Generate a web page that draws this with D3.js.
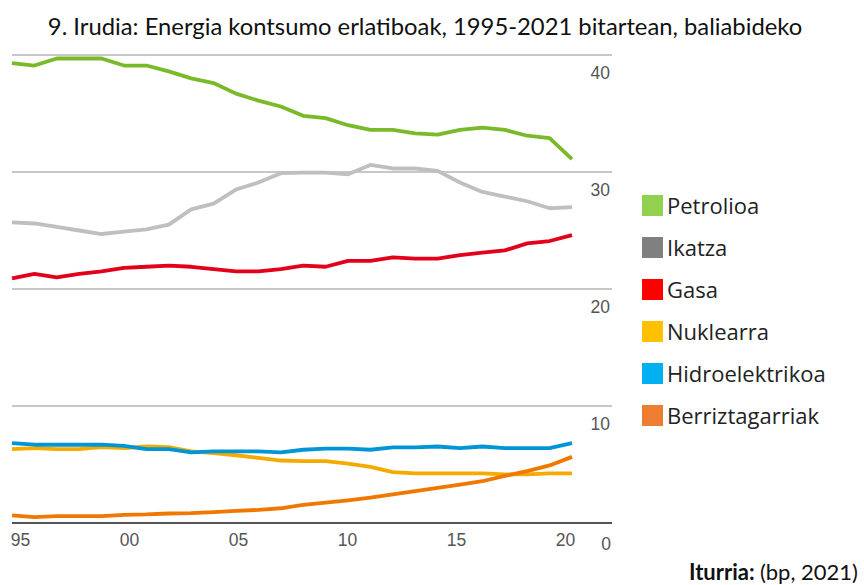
<!DOCTYPE html>
<html>
<head>
<meta charset="utf-8">
<script src="https://cdn.jsdelivr.net/npm/d3@7"></script>
<style>
  body { margin: 0; background: #fff; }
  svg { display: block; }
</style>
</head>
<body>
<script>
// urteak eta seriak (%), BP datuak, grafikotik irakurrita
let years = d3.range(1995, 2021);
let petrolioa = [39.3, 39.1, 39.7, 39.7, 39.7, 39.1, 39.1, 38.6, 38.0, 37.6, 36.7, 36.1, 35.6, 34.8, 34.6, 34.0, 33.6, 33.6, 33.3, 33.2, 33.6, 33.8, 33.6, 33.1, 32.9, 31.1];
let ikatza = [25.7, 25.6, 25.3, 25.0, 24.7, 24.9, 25.1, 25.5, 26.8, 27.3, 28.5, 29.1, 29.9, 29.95, 29.95, 29.8, 30.6, 30.3, 30.3, 30.1, 29.1, 28.3, 27.9, 27.5, 26.9, 27.0];
let gasa = [20.9, 21.3, 21.0, 21.3, 21.5, 21.8, 21.9, 22.0, 21.9, 21.7, 21.5, 21.5, 21.7, 22.0, 21.9, 22.4, 22.4, 22.7, 22.6, 22.6, 22.9, 23.1, 23.3, 23.9, 24.1, 24.6];
let nuklearra = [6.32, 6.4, 6.32, 6.32, 6.49, 6.4, 6.54, 6.49, 6.12, 5.98, 5.79, 5.56, 5.34, 5.28, 5.28, 5.08, 4.8, 4.35, 4.24, 4.24, 4.24, 4.24, 4.16, 4.16, 4.24, 4.24];
let hidro = [6.83, 6.69, 6.69, 6.69, 6.69, 6.6, 6.32, 6.32, 6.04, 6.12, 6.12, 6.12, 6.04, 6.26, 6.35, 6.35, 6.26, 6.46, 6.46, 6.54, 6.4, 6.54, 6.4, 6.4, 6.4, 6.83];
let berriz = [0.65, 0.5, 0.59, 0.59, 0.59, 0.7, 0.73, 0.81, 0.84, 0.93, 1.04, 1.12, 1.26, 1.54, 1.74, 1.94, 2.16, 2.44, 2.72, 3.0, 3.29, 3.57, 4.02, 4.44, 4.92, 5.65];

let seriesNames = ["Petrolioa", "Ikatza", "Gasa", "Nuklearra", "Hidroelektrikoa", "Berriztagarriak"];
let seriesValues = [petrolioa, ikatza, gasa, nuklearra, hidro, berriz];
let lineColors = ["#7ab929", "#bfbfbf", "#e3001b", "#f5aa00", "#0096d6", "#f07800"];
let legendColors = ["#92d050", "#808080", "#ff0000", "#ffc000", "#00b0f0", "#ed7d31"];
let yTicks = [0, 10, 20, 30, 40];
let xTicks = [1995, 2000, 2005, 2010, 2015, 2020];

let W = 864, H = 585;

let svg = d3.select("body").append("svg")
    .attr("width", W)
    .attr("height", H);

// scales
let x = d3.scaleLinear().domain([1995, 2020]).range([12, 572]);
let xLab = d3.scaleLinear().domain([1995, 2020]).range([20, 565]);
let y = d3.scaleLinear().domain([0, 40]).range([523, 55]);

// title
svg.append("text")
    .attr("x", 425)
    .attr("y", 35)
    .attr("text-anchor", "middle")
    .style("font-family", "Lato, 'Open Sans', sans-serif")
    .style("font-size", "23.8px")
    .style("fill", "#111")
    .text("9. Irudia: Energia kontsumo erlatiboak, 1995-2021 bitartean, baliabideko");

// gridlines
svg.append("g")
    .selectAll("line")
    .data(yTicks)
    .enter().append("line")
    .attr("x1", 12)
    .attr("x2", 612)
    .attr("y1", d => y(d))
    .attr("y2", d => y(d))
    .style("stroke", d => d === 0 ? "#555" : "#b4b4b4")
    .style("stroke-width", d => d === 0 ? 2 : 1.3);

// y labels (under the lines, right side)
svg.append("g")
    .selectAll("text")
    .data(yTicks)
    .enter().append("text")
    .attr("x", d => d === 0 ? 611 : 610)
    .attr("y", d => y(d) + (d === 0 ? 27 : 24))
    .attr("text-anchor", "end")
    .style("font-family", "'Liberation Sans', Arial, sans-serif")
    .style("font-size", "17.5px")
    .style("fill", "#555")
    .text(d => d);

// x labels
let xAxis = d3.axisBottom(xLab)
    .tickValues(xTicks)
    .tickSize(0)
    .tickFormat(d => String(d).slice(2));

let gx = svg.append("g")
    .attr("transform", "translate(0,531)")
    .call(xAxis);
gx.select(".domain").remove();
gx.selectAll("text")
    .style("font-family", "'Liberation Sans', Arial, sans-serif")
    .style("font-size", "17.5px")
    .style("fill", "#555");

// lines
let line = d3.line()
    .x((d, i) => x(years[i]))
    .y(d => y(d));

svg.append("g")
    .selectAll("path")
    .data(seriesValues)
    .enter().append("path")
    .attr("d", line)
    .style("fill", "none")
    .style("stroke", (d, i) => lineColors[i])
    .style("stroke-width", 3.8)
    .style("stroke-linejoin", "round");

// legend
let legend = svg.append("g")
    .selectAll("g")
    .data(seriesNames)
    .enter().append("g")
    .attr("transform", (d, i) => "translate(642," + (195 + i * 42) + ")");

legend.append("rect")
    .attr("width", 21)
    .attr("height", 21)
    .style("fill", (d, i) => legendColors[i]);

legend.append("text")
    .attr("x", 25)
    .attr("y", 19)
    .style("font-family", "'Open Sans', sans-serif")
    .style("font-size", "22px")
    .style("fill", "#222")
    .text(d => d);

// source
let src = svg.append("text")
    .attr("x", 858)
    .attr("y", 580)
    .attr("text-anchor", "end")
    .style("font-family", "Lato, 'Open Sans', sans-serif")
    .style("font-size", "22px")
    .style("fill", "#111");
src.append("tspan").style("font-weight", "bold").text("Iturria: ");
src.append("tspan").text("(bp, 2021)");
</script>
</body>
</html>
